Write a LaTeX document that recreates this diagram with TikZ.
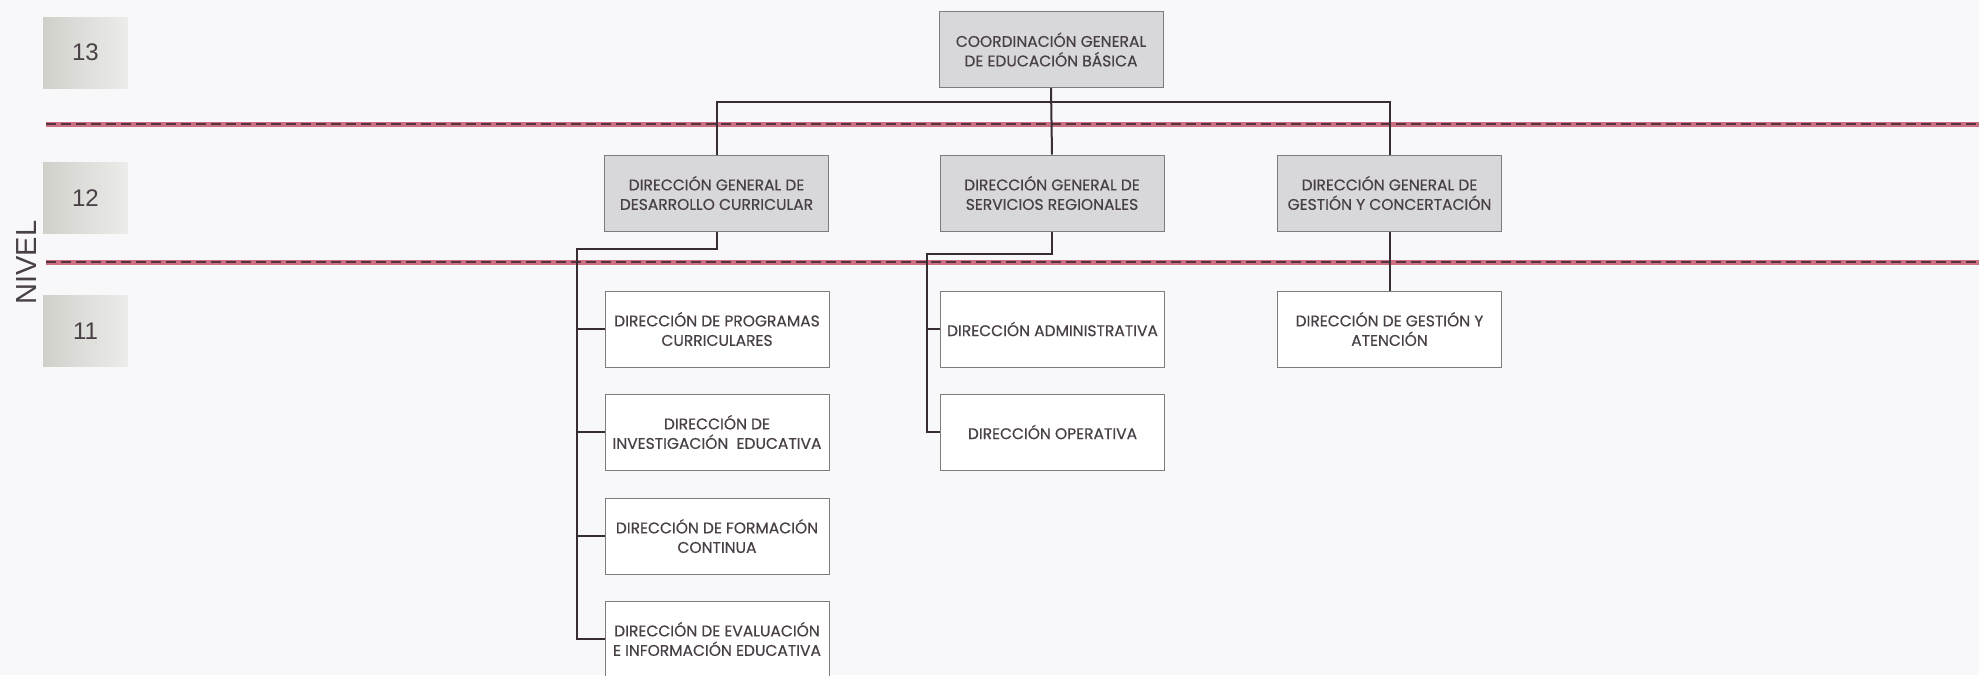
\documentclass[tikz,border=0pt]{standalone}
\usepackage{fontspec}
\newfontfamily\popfont[FakeBold=0.5]{Poppins}
\newfontfamily\libfont{Liberation Sans}
\definecolor{bg}{RGB}{248,248,250}
\definecolor{boxgray}{RGB}{216,216,220}
\definecolor{boxline}{RGB}{125,125,125}
\definecolor{txtc}{RGB}{72,64,70}
\definecolor{connc}{RGB}{55,45,50}
\definecolor{redline}{RGB}{205,112,132}
\definecolor{dashdark}{RGB}{85,52,66}
\definecolor{lvlleft}{RGB}{208,208,203}
\definecolor{lvlright}{RGB}{236,236,234}
\begin{document}
\begin{tikzpicture}[x=1pt,y=-1pt,
  box/.style={draw=boxline, line width=1pt, minimum width=224pt, minimum height=76pt, inner sep=0pt, align=center, text=txtc, font=\popfont\fontsize{15.5}{19.5}\selectfont},
  grayb/.style={box, fill=boxgray},
  whiteb/.style={box, fill=white},
  lvl/.style={minimum width=85pt, minimum height=71pt, inner sep=0pt, left color=lvlleft, right color=lvlright, text=txtc, font=\libfont\fontsize{24}{28}\selectfont},
  connector/.style={draw=connc, line width=2pt},
  redbase/.style={draw=redline, line width=5pt},
  reddash/.style={draw=dashdark, line width=2.4pt, dash pattern=on 10pt off 5pt}
]
\useasboundingbox (0,0) rectangle (1979,675);
\fill[bg] (0,0) rectangle (1979,675);

% level labels
\node[lvl] (l13) at (85.5,52.5) {13};
\node[lvl] (l12) at (85.5,198) {12};
\node[lvl] (l11) at (85.5,331) {11};
\node[rotate=90, inner sep=0pt, text=txtc, font=\libfont\fontsize{29}{30}\selectfont] (nivel) at (27,262.5) {NIVEL};

% dashed level separators
\coordinate (s1a) at (46,124);
\coordinate (s1b) at (1979,124);
\coordinate (s2a) at (46,262);
\coordinate (s2b) at (1979,262);
\draw[redbase] (s1a) -- (s1b);
\draw[reddash] (s1a) -- (s1b);
\draw[redbase] (s2a) -- (s2b);
\draw[reddash] (s2a) -- (s2b);

% boxes
\node[grayb] (top) at (1051,49.5) {COORDINACIÓN GENERAL\\DE EDUCACIÓN BÁSICA};
\node[grayb] (dgdc) at (716.5,193) {DIRECCIÓN GENERAL DE\\DESARROLLO CURRICULAR};
\node[grayb] (dgsr) at (1052,193) {DIRECCIÓN GENERAL DE\\SERVICIOS REGIONALES};
\node[grayb] (dggc) at (1389.5,193) {DIRECCIÓN GENERAL DE\\GESTIÓN Y CONCERTACIÓN};

\node[whiteb] (dpc) at (717,329) {DIRECCIÓN DE PROGRAMAS\\CURRICULARES};
\node[whiteb] (die) at (717,432) {DIRECCIÓN DE\\INVESTIGACIÓN\ \ EDUCATIVA};
\node[whiteb] (dfc) at (717,536) {DIRECCIÓN DE FORMACIÓN\\CONTINUA};
\node[whiteb] (deie) at (717,639) {DIRECCIÓN DE EVALUACIÓN\\E INFORMACIÓN EDUCATIVA};

\node[whiteb] (da) at (1052.5,329) {DIRECCIÓN ADMINISTRATIVA};
\node[whiteb] (dop) at (1052.5,432) {DIRECCIÓN OPERATIVA};

\node[whiteb] (dga) at (1389.5,329) {DIRECCIÓN DE GESTIÓN Y\\ATENCIÓN};

% connectors
\coordinate (bus) at (0,102);
\draw[connector] (top.south) -- (dgsr.north);
\draw[connector] (dgdc.north) -- (dgdc.north |- bus) -- (dggc.north |- bus) -- (dggc.north);

\coordinate (sa) at (577,249);
\draw[connector] (dgdc.south) |- (sa) -- (sa |- deie.west) -- (deie.west);
\draw[connector] (sa |- dpc.west) -- (dpc.west);
\draw[connector] (sa |- die.west) -- (die.west);
\draw[connector] (sa |- dfc.west) -- (dfc.west);

\coordinate (sb) at (927,254);
\draw[connector] (dgsr.south) |- (sb) -- (sb |- dop.west) -- (dop.west);
\draw[connector] (sb |- da.west) -- (da.west);

\draw[connector] (dggc.south) -- (dga.north);
\end{tikzpicture}
\end{document}
